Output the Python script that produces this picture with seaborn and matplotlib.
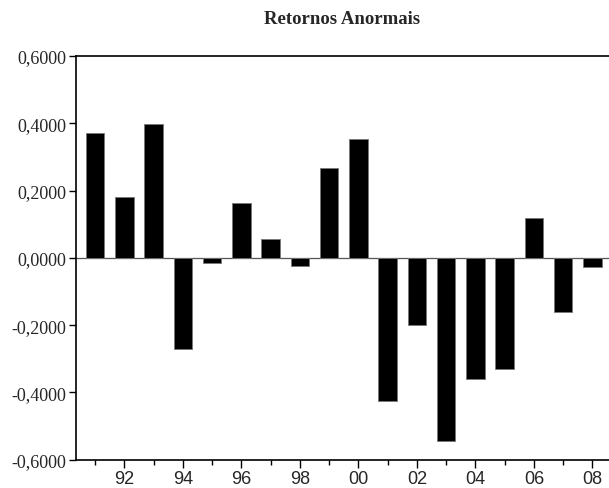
import matplotlib
matplotlib.use("Agg")
import matplotlib.pyplot as plt
import seaborn as sns
import pandas as pd
from matplotlib.ticker import FixedLocator, FuncFormatter

years = [1991, 1992, 1993, 1994, 1995, 1996, 1997, 1998, 1999, 2000,
         2001, 2002, 2003, 2004, 2005, 2006, 2007, 2008]
values = [0.371, 0.182, 0.399, -0.271, -0.014, 0.163, 0.056, -0.025, 0.267, 0.353,
          -0.426, -0.200, -0.544, -0.361, -0.329, 0.119, -0.161, -0.027]
major_years = [1992, 1994, 1996, 1998, 2000, 2002, 2004, 2006, 2008]
major_labels = ["92", "94", "96", "98", "00", "02", "04", "06", "08"]
y_ticks = [-0.6, -0.4, -0.2, 0.0, 0.2, 0.4, 0.6]
title = "Retornos Anormais"

df = pd.DataFrame({"year": years, "value": values})

sns.set_style("white")
fig = plt.figure(figsize=(6.09, 4.89), dpi=100)
ax = fig.add_axes([0.124, 0.0579, 0.876, 0.8255])

sns.barplot(data=df, x="year", y="value", native_scale=True, width=0.63,
            color="black", saturation=1, edgecolor="#777777", linewidth=0.6,
            ax=ax, errorbar=None)

ax.axhline(0, color="#555555", linewidth=0.9, zorder=0.5)

ax.set_xlim(1990.333, 2008.566)
ax.set_ylim(-0.6, 0.6)

ax.xaxis.set_major_locator(FixedLocator(major_years))
ax.set_xticklabels(major_labels, fontfamily="Liberation Sans", fontsize=13)
ax.xaxis.set_minor_locator(FixedLocator([y for y in years if y not in major_years]))
ax.set_yticks(y_ticks)
ax.yaxis.set_major_formatter(FuncFormatter(lambda v, p: f"{v:.4f}".replace(".", ",")))
for lab in ax.get_yticklabels():
    lab.set_fontfamily("Liberation Serif")
    lab.set_fontsize(13)

ax.tick_params(axis="x", which="major", direction="out", length=6, width=1,
               bottom=True, color="black", pad=1.5)
ax.tick_params(axis="x", which="minor", direction="out", length=3.5, width=1,
               bottom=True, color="black")
ax.tick_params(axis="y", which="major", direction="out", length=5, width=1,
               left=True, color="black", pad=1.5)

for s in ["left", "top", "bottom"]:
    ax.spines[s].set_visible(True)
    ax.spines[s].set_color("black")
    ax.spines[s].set_linewidth(1.2)
ax.spines["right"].set_visible(False)

ax.set_xlabel("")
ax.set_ylabel("")
ax.set_title(title, fontfamily="Liberation Serif", fontweight="bold",
             fontsize=13.5, pad=23.5)

fig.savefig("out.png", dpi=100)
